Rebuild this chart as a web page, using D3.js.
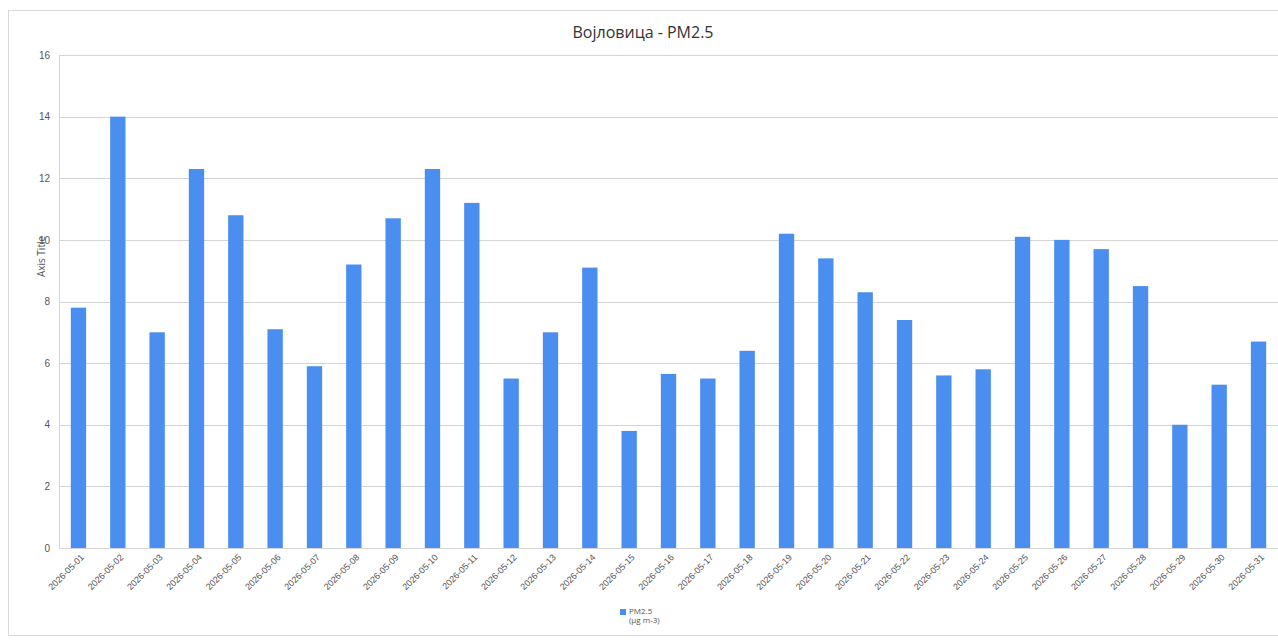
<!DOCTYPE html>
<html>
<head>
<meta charset="utf-8">
<script src="https://cdn.jsdelivr.net/npm/d3@7"></script>
<style>
  body { margin: 0; background: #fff; }
  svg { display: block; font-family: 'Open Sans', 'Noto Sans', sans-serif; }
</style>
</head>
<body>
<div id="graph"></div>
<script>
// data
const dates = [
  '2026-05-01', '2026-05-02', '2026-05-03', '2026-05-04', '2026-05-05', '2026-05-06',
  '2026-05-07', '2026-05-08', '2026-05-09', '2026-05-10', '2026-05-11', '2026-05-12',
  '2026-05-13', '2026-05-14', '2026-05-15', '2026-05-16', '2026-05-17', '2026-05-18',
  '2026-05-19', '2026-05-20', '2026-05-21', '2026-05-22', '2026-05-23', '2026-05-24',
  '2026-05-25', '2026-05-26', '2026-05-27', '2026-05-28', '2026-05-29', '2026-05-30',
  '2026-05-31'
];
const pm25 = [
  7.8, 14.0, 7.0, 12.3, 10.8, 7.1, 5.9, 9.2, 10.7, 12.3, 11.2, 5.5,
  7.0, 9.1, 3.8, 5.65, 5.5, 6.4, 10.2, 9.4, 8.3, 7.4, 5.6, 5.8,
  10.1, 10.0, 9.7, 8.5, 4.0, 5.3, 6.7
];
const yTicks = [0, 2, 4, 6, 8, 10, 12, 14, 16];
const title = 'Војловица - PM2.5';
const yTitle = 'Axis Title';
const legendLines = ['PM2.5', '(µg m-3)'];

const W = 1278, H = 641;
const margin = { top: 55, right: 0, bottom: 93, left: 59 };
const width = W - margin.left - margin.right;
const height = H - margin.top - margin.bottom;
const barColor = '#4a8ef0';

const svg = d3.select('#graph')
  .append('svg')
  .attr('width', W)
  .attr('height', H);

// faint outer frame
svg.append('rect')
  .attr('x', 8.5).attr('y', 10.5)
  .attr('width', W - 8).attr('height', H - 16)
  .attr('fill', 'none')
  .attr('stroke', '#d9d9d9');

const g = svg.append('g')
  .attr('transform', `translate(${margin.left}, ${margin.top})`);

const x = d3.scaleBand()
  .domain(dates)
  .range([0, width])
  .paddingInner(0.61)
  .paddingOuter(0.3);

const y = d3.scaleLinear()
  .domain([0, 16])
  .range([height, 0]);

// gridlines
g.append('g')
  .selectAll('line')
  .data(yTicks)
  .enter()
  .append('line')
  .attr('x1', 0).attr('x2', width)
  .attr('y1', (d) => Math.round(y(d)) + 0.5)
  .attr('y2', (d) => Math.round(y(d)) + 0.5)
  .attr('stroke', '#d4d4d4');

// y axis
const yAxis = g.append('g')
  .call(d3.axisLeft(y).tickValues(yTicks).tickSize(0).tickPadding(9));
yAxis.select('.domain').attr('stroke', '#d4d4d4');
yAxis.selectAll('text')
  .style('font-size', '10px')
  .attr('fill', '#555');

// bars
g.selectAll('.bar')
  .data(pm25)
  .enter()
  .append('rect')
  .attr('class', 'bar')
  .attr('x', (d, i) => x(dates[i]))
  .attr('width', x.bandwidth())
  .attr('y', (d) => y(d))
  .attr('height', (d) => height - y(d))
  .attr('fill', barColor);

// x axis
const xAxis = g.append('g')
  .attr('transform', `translate(0, ${height})`)
  .call(d3.axisBottom(x).tickSize(0).tickPadding(6));
xAxis.select('.domain').attr('stroke', '#d4d4d4');
xAxis.selectAll('text')
  .attr('transform', 'rotate(-45)')
  .attr('dx', '-0.3em')
  .attr('dy', '0.6em')
  .style('text-anchor', 'end')
  .style('font-size', '9px')
  .attr('fill', '#555');

// title
svg.append('text')
  .attr('x', 643)
  .attr('y', 38)
  .attr('text-anchor', 'middle')
  .style('font-size', '16px')
  .attr('fill', '#333')
  .text(title);

// y axis title
svg.append('text')
  .attr('transform', `translate(45, ${margin.top + height / 2 - 45}) rotate(-90)`)
  .attr('text-anchor', 'middle')
  .style('font-size', '10px')
  .attr('fill', '#555')
  .text(yTitle);

// legend
const legend = svg.append('g').attr('transform', 'translate(620, 607)');
legend.append('rect')
  .attr('x', 0).attr('y', 2)
  .attr('width', 6).attr('height', 6)
  .attr('fill', barColor);
legend.selectAll('text')
  .data(legendLines)
  .enter()
  .append('text')
  .attr('x', 9)
  .attr('y', (d, i) => 7 + i * 9)
  .style('font-size', '8px')
  .attr('fill', '#555')
  .text((d) => d);
</script>
</body>
</html>
